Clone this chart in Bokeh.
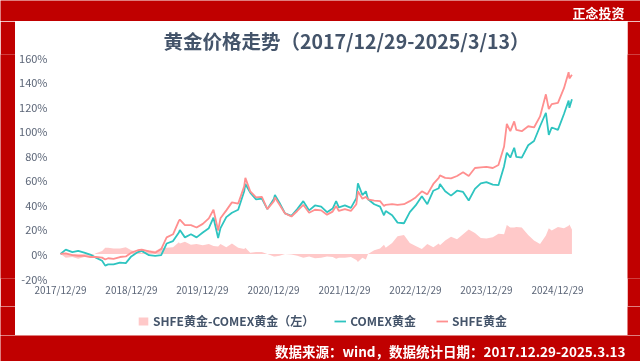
from datetime import datetime, timedelta
from bokeh.plotting import figure
from bokeh.layouts import column, row
from bokeh.models import (ColumnDataSource, FixedTicker, DatetimeTickFormatter, Range1d,
                          Legend, LegendItem, Label)
from bokeh.embed import file_html
from bokeh.resources import INLINE

# ---------------- data ----------------
dates = ["2017-12-29", "2018-01-25", "2018-02-28", "2018-03-30", "2018-04-30", "2018-05-31",
         "2018-06-29", "2018-07-31", "2018-08-16", "2018-08-31", "2018-09-28", "2018-10-31",
         "2018-11-30", "2018-12-28", "2019-01-31", "2019-02-20", "2019-03-29", "2019-04-30",
         "2019-05-31", "2019-06-28", "2019-07-31", "2019-08-30", "2019-09-04", "2019-09-30",
         "2019-10-31", "2019-11-29", "2019-12-31", "2020-01-31", "2020-02-24", "2020-03-19",
         "2020-03-31", "2020-04-30", "2020-05-29", "2020-06-30", "2020-07-31", "2020-08-06",
         "2020-08-31", "2020-09-30", "2020-10-30", "2020-11-27", "2020-12-31", "2021-01-05",
         "2021-01-29", "2021-02-26", "2021-03-31", "2021-04-30", "2021-05-31", "2021-06-30",
         "2021-07-30", "2021-08-31", "2021-09-30", "2021-10-29", "2021-11-16", "2021-11-30",
         "2021-12-31", "2022-01-31", "2022-02-28", "2022-03-08", "2022-03-31", "2022-04-18",
         "2022-04-29", "2022-05-31", "2022-06-30", "2022-07-20", "2022-07-29", "2022-08-31",
         "2022-09-28", "2022-10-31", "2022-11-30", "2022-12-30", "2023-01-31", "2023-02-28",
         "2023-03-31", "2023-04-28", "2023-05-04", "2023-05-31", "2023-06-30", "2023-07-31",
         "2023-08-31", "2023-09-29", "2023-10-31", "2023-11-30", "2023-12-29", "2024-01-31",
         "2024-02-29", "2024-03-29", "2024-04-12", "2024-04-30", "2024-05-20", "2024-05-31",
         "2024-06-28", "2024-07-31", "2024-08-30", "2024-09-30", "2024-10-30", "2024-11-14",
         "2024-11-29", "2024-12-31", "2025-01-31", "2025-02-24", "2025-02-28", "2025-03-13"]

comex = [0.0, 3.5, 1.5, 2.5, 1.0, -0.5,
         -3.0, -5.5, -9.5, -8.5, -8.5, -7.0,
         -7.5, -2.0, 1.5, 2.5, -1.0, -1.5,
         -1.0, 8.5, 10.5, 17.5, 19.5, 13.5,
         16.0, 13.5, 17.5, 21.0, 29.5, 13.0,
         21.0, 30.0, 33.5, 36.0, 51.0, 57.0,
         50.0, 44.5, 45.0, 36.5, 45.0, 48.0,
         41.5, 33.0, 31.0, 36.5, 43.0, 35.5,
         39.5, 38.5, 34.0, 37.0, 43.0, 38.0,
         39.5, 37.5, 45.5, 57.5, 48.0, 51.0,
         44.5, 40.5, 38.5, 31.5, 35.0, 31.5,
         25.5, 25.0, 34.0, 39.5, 47.0, 40.5,
         51.5, 53.5, 57.0, 51.0, 47.5, 51.5,
         50.5, 43.5, 53.0, 57.5, 58.5, 56.5,
         56.0, 71.5, 82.5, 78.5, 86.5, 79.0,
         78.5, 88.5, 92.0, 104.0, 115.0, 97.0,
         103.0, 101.0, 114.0, 125.0, 119.0, 126.0]

shfe = [0.0, 0.5, -1.0, -1.5, -1.5, -2.5,
        -2.5, -3.0, -4.5, -3.5, -4.0, -2.5,
        -2.0, 1.0, 3.0, 3.5, 2.0, 1.0,
        4.0, 13.5, 16.0, 27.0, 28.0, 23.5,
        23.5, 21.5, 24.5, 29.0, 36.0, 19.0,
        29.0, 35.5, 42.0, 41.0, 55.0, 62.0,
        51.0, 46.0, 46.5, 36.5, 43.0, 46.0,
        40.0, 33.0, 30.5, 35.0, 40.0, 33.5,
        36.0, 35.5, 32.0, 34.5, 39.0, 35.0,
        36.5, 35.0, 40.5, 51.0, 45.0, 46.5,
        44.5, 43.5, 43.0, 39.0, 40.0, 40.5,
        40.0, 40.5, 43.0, 46.0, 51.0, 48.5,
        57.0, 62.0, 64.0, 62.0, 61.5, 63.5,
        66.5, 63.5, 70.0, 70.5, 71.0, 70.0,
        72.5, 87.5, 106.0, 100.0, 108.0, 101.0,
        100.0, 104.0, 103.0, 112.0, 130.0, 118.0,
        122.0, 123.0, 135.0, 148.0, 143.0, 146.0]

y_ticks = [-20, 0, 20, 40, 60, 80, 100, 120, 140, 160]
x_tick_labels = ["2017/12/29", "2018/12/29", "2019/12/29", "2020/12/29",
                 "2021/12/29", "2022/12/29", "2023/12/29", "2024/12/29"]

title_text = "黄金价格走势（2017/12/29-2025/3/13）"
brand_text = "正念投资"
source_text = "数据来源：wind，数据统计日期：2017.12.29-2025.3.13"
series_names = ["SHFE黄金-COMEX黄金（左）", "COMEX黄金", "SHFE黄金"]

# ---------------- styling ----------------
RED = "#C00000"
TXT = "#44546A"
AX = "#5B6577"
CJK = "Noto Sans CJK SC"
AREA_C, COMEX_C, SHFE_C = "#FFC9C9", "#2EC4C0", "#FF8F8F"
W, H = 640, 361
PL, PR, PT, PB = 15, 627, 21, 335        # white panel edges (page px)
CHART_B = 306                           # bottom of chart strip (top of legend strip)
FL, FR, FT, FB = 50, 590, 54, 278       # plot frame edges (page px)
Y160, YM20 = 57, 278                    # page y of the 160% and -20% levels


def strip(width, height, color):
    f = figure(width=width, height=height, output_backend="svg", toolbar_location=None,
               x_axis_location=None, y_axis_location=None,
               x_range=Range1d(0, 1), y_range=Range1d(0, 1),
               min_border=0, min_border_left=0, min_border_right=0,
               min_border_top=0, min_border_bottom=0,
               border_fill_color=color, background_fill_color=color, outline_line_color=None)
    f.grid.visible = False
    return f


# top red strip with brand
top = strip(W, PT, RED)
top.add_layout(Label(x=624, y=PT - 12, x_units="screen", y_units="screen", text=brand_text,
                     text_align="right", text_baseline="middle", text_font=CJK,
                     text_font_size="13px", text_font_style="bold", text_color="white"))

# bottom red strip with source note
bottom = strip(W, H - PB, RED)
bottom.add_layout(Label(x=625, y=(H - PB) - (350 - PB), x_units="screen", y_units="screen",
                        text=source_text, text_align="right", text_baseline="middle",
                        text_font=CJK, text_font_size="13.5px", text_font_style="bold",
                        text_color="white"))

# ---------------- main chart ----------------
xd = [datetime.strptime(d, "%Y-%m-%d") for d in dates]
spread = [s - c for s, c in zip(shfe, comex)]
src = ColumnDataSource(dict(x=xd, comex=comex, shfe=shfe, spread=spread, zero=[0] * len(xd)))

epoch = datetime(1970, 1, 1)
x_ticks_ms = [(datetime.strptime(t, "%Y/%m/%d") - epoch).total_seconds() * 1000 for t in x_tick_labels]

px_per_year = 71.0
d0 = datetime(2017, 12, 29)
days_per_px = 365.25 / px_per_year
x_start = d0 - timedelta(days=(60 - FL) * days_per_px)
x_end = x_start + timedelta(days=(FR - FL) * days_per_px)

px_per_pct = (YM20 - Y160) / 180.0
y_lo = -20 - (FB - YM20) / px_per_pct
y_hi = 160 + (Y160 - FT) / px_per_pct

p = figure(width=PR - PL, height=CHART_B - PT, x_axis_type="datetime",
           output_backend="svg", toolbar_location=None, title=title_text,
           x_range=Range1d(x_start, x_end), y_range=Range1d(y_lo, y_hi),
           min_border_left=FL - PL, min_border_right=PR - FR,
           min_border_top=FT - PT, min_border_bottom=CHART_B - FB,
           border_fill_color="white", background_fill_color="white", outline_line_color=None)
p.title.align = "left"
p.title.offset = 163 - FL
p.title.standoff = 0
p.title.text_font = CJK
p.title.text_font_size = "19.5px"
p.title.text_font_style = "bold"
p.title.text_color = TXT
p.grid.visible = False

p.xaxis.ticker = FixedTicker(ticks=x_ticks_ms)
fmt = "%Y/%m/%d"
p.xaxis.formatter = DatetimeTickFormatter(years=fmt, months=fmt, days=fmt, hours=fmt)
p.yaxis.ticker = FixedTicker(ticks=y_ticks)
p.yaxis.major_label_overrides = {v: f"{v}%" for v in y_ticks}
for ax in (p.xaxis[0], p.yaxis[0]):
    ax.axis_line_color = None
    ax.major_tick_line_color = None
    ax.minor_tick_line_color = None
    ax.major_tick_out = 0
    ax.major_tick_in = 0
    ax.major_label_text_color = AX
    ax.major_label_text_font = CJK
p.xaxis.major_label_text_font_size = "10px"
p.xaxis.major_label_standoff = 3
p.yaxis.major_label_text_font_size = "11px"
p.yaxis.major_label_standoff = 3

p.varea(x="x", y1="zero", y2="spread", source=src, fill_color=AREA_C, fill_alpha=1.0)
p.line(x="x", y="comex", source=src, line_color=COMEX_C, line_width=1.8)
p.line(x="x", y="shfe", source=src, line_color=SHFE_C, line_width=1.8)

# ---------------- legend strip (series drawn out of its view; only swatches show) ----------------
lfig = strip(PR - PL, PB - CHART_B, "white")
la = lfig.varea(x="x", y1="zero", y2="spread", source=src, fill_color=AREA_C, fill_alpha=1.0)
lc = lfig.line(x="x", y="comex", source=src, line_color=COMEX_C, line_width=1.8)
ls = lfig.line(x="x", y="shfe", source=src, line_color=SHFE_C, line_width=1.8)
legend = Legend(items=[LegendItem(label=series_names[0], renderers=[la]),
                       LegendItem(label=series_names[1], renderers=[lc]),
                       LegendItem(label=series_names[2], renderers=[ls])],
                orientation="horizontal", location=(137 - PL, PB - 329),
                padding=0, margin=0, spacing=20, label_standoff=4,
                glyph_width=12, glyph_height=10, label_height=14,
                label_text_font=CJK, label_text_font_size="12px", label_text_font_style="bold",
                label_text_color=TXT, background_fill_alpha=0, border_line_color=None)
lfig.add_layout(legend)

page = column(top,
              row(strip(PL, CHART_B - PT, RED), p, strip(W - PR, CHART_B - PT, RED)),
              row(strip(PL, PB - CHART_B, RED), lfig, strip(W - PR, PB - CHART_B, RED)),
              bottom,
              styles={"position": "fixed", "left": "0px", "top": "0px"})

open("out.html", "w").write(file_html(page, INLINE))
